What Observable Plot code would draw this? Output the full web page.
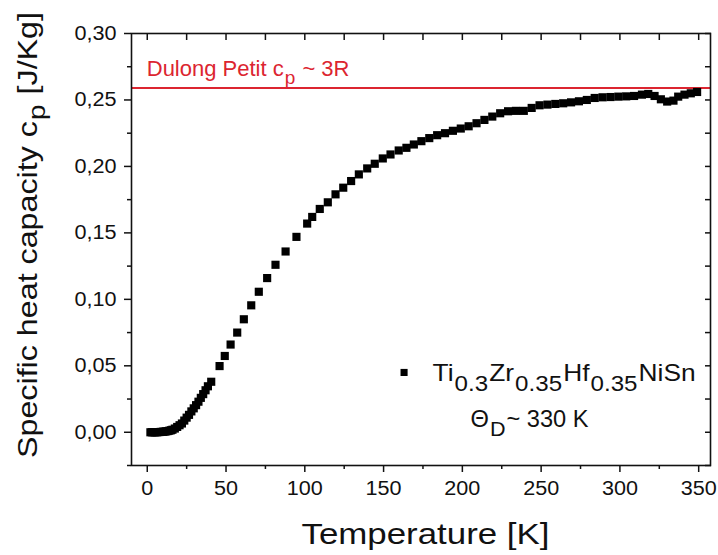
<!DOCTYPE html>
<html>
<head>
<meta charset="utf-8">
<script src="https://cdn.jsdelivr.net/npm/d3@7"></script>
<script src="https://cdn.jsdelivr.net/npm/@observablehq/plot@0.6"></script>
<style>
  html, body { margin: 0; padding: 0; background: #fff; }
  #chart svg { display: block; }
</style>
</head>
<body>
<div id="chart"></div>
<script>
// ---- data ----
const temperature = [
  2, 3, 4, 5, 6, 7, 8, 9, 10, 11, 12, 13, 14, 15, 16, 17.5, 19, 20.5, 22, 23.5,
  25, 26.5, 28, 29.5, 31, 32.5, 34, 35.5, 37, 38.5, 40.6,
  45.9, 49.2, 52.9, 57.1, 61.3, 66, 70.8, 76.1, 81.4, 87.8, 94.7,
  101.5, 104.7, 109.5, 114.6, 119.5, 124.4, 129.4, 134.3, 139.6, 144.4, 149.5,
  154.4, 159.6, 164.5, 169.2, 174, 179, 184, 189, 194, 199, 204, 209, 214, 219,
  224, 229, 234, 239, 244, 249, 254, 259, 264, 269, 274, 279, 284, 289, 294,
  299, 304, 309, 314, 318, 322, 326, 330, 334, 337, 341, 345, 349
];
const heatCapacity = [
  0, 0, 0, 0, 0, 0.0001, 0.0002, 0.0003, 0.0004, 0.0005, 0.0007, 0.0009, 0.0012, 0.0015, 0.0019, 0.0028, 0.0040, 0.0053, 0.0066, 0.0088,
  0.0110, 0.0131, 0.0157, 0.0180, 0.0204, 0.0230, 0.0259, 0.0287, 0.0316, 0.0346, 0.0380,
  0.0498, 0.0574, 0.0660, 0.0750, 0.0850, 0.0955, 0.1057, 0.1160, 0.1260, 0.1360, 0.1470,
  0.1570, 0.1620, 0.1680, 0.1730, 0.1790, 0.1840, 0.1890, 0.1940, 0.1985, 0.2020, 0.2060,
  0.2090, 0.2120, 0.2140, 0.2165, 0.2190, 0.2213, 0.2235, 0.2250, 0.2268, 0.2285, 0.2302, 0.2325, 0.2350, 0.2375,
  0.2400, 0.2415, 0.2418, 0.2418, 0.2440, 0.2460, 0.2465, 0.2470, 0.2475, 0.2482, 0.2490, 0.2500, 0.2515, 0.2520, 0.2522,
  0.2525, 0.2527, 0.2530, 0.2540, 0.2545, 0.2530, 0.2505, 0.2488, 0.2495, 0.2525, 0.2540, 0.2550, 0.2560
];
const dulongPetit = 0.259;

const xMajorTicks = [0, 50, 100, 150, 200, 250, 300, 350];
const xMinorTicks = [25, 75, 125, 175, 225, 275, 325];
const yMajorTicks = [0, 0.05, 0.10, 0.15, 0.20, 0.25, 0.30];
const yMinorTicks = [-0.025, 0.025, 0.075, 0.125, 0.175, 0.225, 0.275];

const xDomain = [-10, 357.5];
const yDomain = [-0.025, 0.30];

// annotation anchors (data units)
const dulongLabelAt = [0, 0.268];
const legendAt = [163, 0.045];

const data = temperature.map((t, i) => ({T: t, cp: heatCapacity[i]}));

const FONT = "'Liberation Sans', Arial, Helvetica, sans-serif";
const INK = "#111";
const RED = "#dc2530";
const TICK_STRETCH = 1.08;

const commaFmt = d => d.toFixed(2).replace(".", ",");

const plot = Plot.plot({
  width: 718,
  height: 555,
  marginLeft: 131,
  marginRight: 8,
  marginTop: 33,
  marginBottom: 90,
  style: {fontFamily: FONT, fontSize: "20px", color: INK, background: "#fff"},
  x: {domain: xDomain},
  y: {domain: yDomain},
  marks: [
    Plot.axisX(xMajorTicks, {tickSize: 7, tickPadding: 8, strokeWidth: 1.5, label: null, fontSize: 20}),
    Plot.axisX(xMinorTicks, {tickSize: 4, tickFormat: () => "", strokeWidth: 1.5, label: null}),
    Plot.axisX([...xMajorTicks, ...xMinorTicks], {anchor: "top", tickSize: -6, tickFormat: () => "", strokeWidth: 1.5, label: null}),
    Plot.axisY(yMajorTicks, {tickSize: 7, tickPadding: 8, tickFormat: commaFmt, strokeWidth: 1.5, label: null, fontSize: 20}),
    Plot.axisY(yMinorTicks, {tickSize: 4, tickFormat: () => "", strokeWidth: 1.5, label: null}),
    Plot.axisY([...yMajorTicks, ...yMinorTicks], {anchor: "right", tickSize: -6, tickFormat: () => "", strokeWidth: 1.5, label: null}),
    Plot.ruleY([dulongPetit], {stroke: RED, strokeWidth: 2}),
    Plot.dot(data, {x: "T", y: "cp", symbol: "square", r: 4.6, fill: "#000", stroke: null}),
    Plot.dot([{T: legendAt[0], cp: legendAt[1]}], {x: "T", y: "cp", symbol: "square", r: 4.0, fill: "#000", stroke: null}),
    Plot.frame({stroke: INK, strokeWidth: 1.6})
  ]
});

document.getElementById("chart").appendChild(plot);

// stretch Plot's tick labels slightly to match the reference's wider face
d3.select(plot).selectAll("text").each(function() {
  const len = this.getComputedTextLength();
  if (len > 0) {
    this.setAttribute("textLength", (len * TICK_STRETCH).toFixed(1));
    this.setAttribute("lengthAdjust", "spacingAndGlyphs");
  }
});

const sx = plot.scale("x");
const sy = plot.scale("y");
const svg = d3.select(plot);
const g = svg.append("g").attr("font-family", FONT);

// text with sub-scripted parts, optionally fitted to a target length
function rich(x, y, parts, size, subSize, subShift, color, anchor, targetLen, rotate) {
  const t = g.append("text")
    .attr("font-size", size)
    .attr("fill", color)
    .attr("text-anchor", anchor || "start");
  if (rotate) t.attr("transform", `translate(${x},${y}) rotate(${rotate})`);
  else t.attr("x", x).attr("y", y);
  let shifted = false;
  for (const p of parts) {
    const ts = t.append("tspan").text(p.t);
    if (p.sub) {
      ts.attr("font-size", subSize);
      if (!shifted) { ts.attr("dy", subShift).attr("dx", 1); shifted = true; }
    } else if (shifted) {
      ts.attr("dy", -subShift).attr("dx", 1); shifted = false;
    }
  }
  if (targetLen) t.attr("textLength", targetLen).attr("lengthAdjust", "spacingAndGlyphs");
  return t;
}

const [x0, x1] = sx.range;
const [y0, y1] = sy.range;

// axis titles
rich((x0 + x1) / 2 + 5, 544, [{t: "Temperature [K]"}], 29, 24, 7, INK, "middle", 248);
rich(37, (y0 + y1) / 2 - 14,
  [{t: "Specific heat capacity c"}, {t: "p", sub: true}, {t: " [J/Kg]"}],
  28, 24, 8, INK, "middle", 446, -90);

// Dulong-Petit label
rich(sx.apply(dulongLabelAt[0]), sy.apply(dulongLabelAt[1]),
  [{t: "Dulong Petit c"}, {t: "p", sub: true}, {t: " ~ 3R"}], 22, 19, 8, RED, "start", null);

// legend
const lx = sx.apply(legendAt[0]);
const ly = sy.apply(legendAt[1]);
rich(lx + 29, ly + 9,
  [{t: "Ti"}, {t: "0.3", sub: true}, {t: "Zr"}, {t: "0.35", sub: true}, {t: "Hf"}, {t: "0.35", sub: true}, {t: "NiSn"}],
  24, 22, 10, INK, "start", 263);
rich(lx + 67, ly + 55,
  [{t: "\u0398"}, {t: "D", sub: true}, {t: "~ 330 K"}],
  23, 21, 9, INK, "start", 118);
</script>
</body>
</html>
